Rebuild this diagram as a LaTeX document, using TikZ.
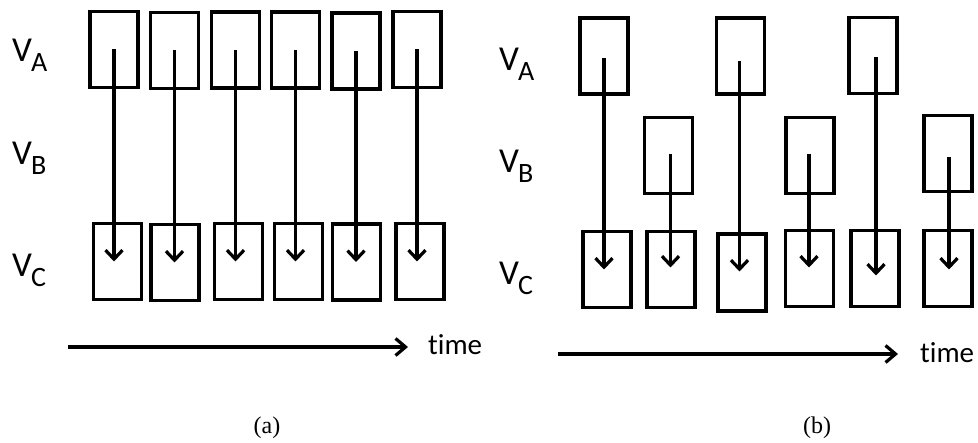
\documentclass[tikz,border=0pt]{standalone}
\usepackage{fontspec}
\setmainfont[Ligatures=NoCommon]{Carlito}
\newfontfamily\capfont{Liberation Serif}
\usetikzlibrary{arrows.meta,calc}
\tikzset{
  box/.style={draw=black, line width=3.2pt, minimum width=48pt, minimum height=76pt, inner sep=0pt},
  arr/.style={line width=3.2pt, -{Straight Barb[length=9pt,width=17pt]}},
  tarr/.style={line width=3.2pt, -{Straight Barb[length=10pt,width=17pt]}},
  vlab/.style={anchor=base west, inner sep=0pt, font=\fontsize{35}{35}\selectfont},
  tlab/.style={anchor=base west, inner sep=0pt, font=\fontsize{29}{29}\selectfont},
  clab/.style={anchor=base, inner sep=0pt, font=\capfont\fontsize{24}{24}\selectfont},
}
\newcommand{\vsub}[1]{V\kern-1pt\raisebox{-10pt}{\fontsize{28}{28}\selectfont #1}}
\begin{document}
\begin{tikzpicture}[x=1pt,y=-1pt]
\useasboundingbox (0,0) rectangle (978,443);
% ---------- panel (a) ----------
\node[vlab] (la) at (12,62) {\vsub{A}};
\node[vlab] (lb) at (12,165) {\vsub{B}};
\node[vlab] (lc) at (12,277) {\vsub{C}};
\node[box] (at1) at (114,49.5) {};
\node[box] (at2) at (174.5,50.5) {};
\node[box] (at3) at (235.5,50) {};
\node[box] (at4) at (295.5,50) {};
\node[box] (at5) at (356,51) {};
\node[box] (at6) at (417,49.5) {};
\node[box] (ab1) at (117.5,261.5) {};
\node[box] (ab2) at (175,262.5) {};
\node[box] (ab3) at (238.5,261.5) {};
\node[box] (ab4) at (298.5,261.5) {};
\node[box] (ab5) at (356.5,262) {};
\node[box] (ab6) at (420,261.5) {};
\foreach \i in {1,...,6}{
  \draw[arr] (at\i.center) -- (at\i.center |- ab\i.center);
}
\coordinate (ta0) at (68,347);
\node[tlab] (timeA) at (428,355) {time};
\draw[tarr, shorten >=20pt] (ta0) -- (ta0 -| timeA.west);
\node[clab] (capA) at (267,434) {(a)};
% ---------- panel (b) ----------
\node[vlab] (mb1) at (499,71) {\vsub{A}};
\node[vlab] (mb2) at (499,173) {\vsub{B}};
\node[vlab] (mb3) at (499,285) {\vsub{C}};
\node[box] (bt1) at (604,56) {};
\node[box] (bt3) at (740.5,56) {};
\node[box] (bt5) at (873,55.5) {};
\node[box] (bt2) at (668.5,155.5) {};
\node[box] (bt4) at (810,155.5) {};
\node[box] (bt6) at (948,153.5) {};
\node[box] (bb1) at (607,269.5) {};
\node[box] (bb2) at (671,269.5) {};
\node[box, minimum height=77pt] (bb3) at (742,272.5) {};
\node[box] (bb4) at (809.5,268.5) {};
\node[box] (bb5) at (875,268.5) {};
\node[box] (bb6) at (948,268.5) {};
\draw[arr] ($(bt1.center)+(0,2)$) -- ($(bt1.center |- bb1.center)$);
\draw[arr] ($(bt2.center)+(2,-1)$) -- ($(bt2.center |- bb2.center)+(2,-2)$);
\draw[arr] ($(bt3.center)+(-1,5)$) -- ($(bt3.center |- bb3.center)+(-1,-1)$);
\draw[arr] ($(bt4.center)+(-1,-1)$) -- ($(bt4.center |- bb4.center)+(-1,-1)$);
\draw[arr] ($(bt5.center)+(3,2)$) -- ($(bt5.center |- bb5.center)+(3,7)$);
\draw[arr] ($(bt6.center)+(1,4)$) -- ($(bt6.center |- bb6.center)+(1,1)$);
\coordinate (tb0) at (558,354);
\node[tlab] (timeB) at (920,363) {time};
\draw[tarr, shorten >=22pt] (tb0) -- (tb0 -| timeB.west);
\node[clab] (capB) at (817,434) {(b)};
\end{tikzpicture}
\end{document}
